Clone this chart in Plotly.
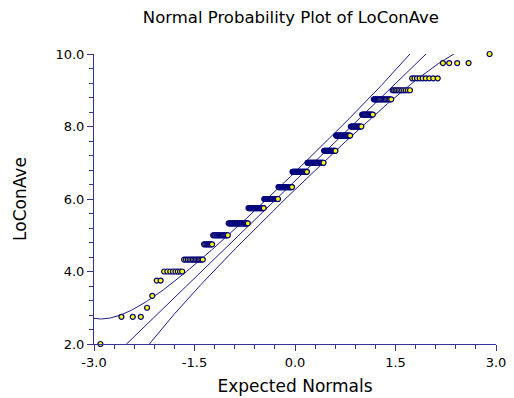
import numpy as np
import plotly.graph_objects as go
from statistics import NormalDist

# ---- data ----
LEVELS = [2.0, 2.75, 3.0, 3.33, 3.75, 4.0, 4.33, 4.75, 5.0, 5.33, 5.75, 6.0,
          6.33, 6.75, 7.0, 7.33, 7.75, 8.0, 8.33, 8.75, 9.0, 9.33, 9.75, 10.0]
COUNTS = [1, 3, 1, 1, 2, 8, 13, 8, 17, 28, 27, 27,
          28, 30, 32, 21, 23, 15, 13, 16, 11, 9, 4, 1]
LINE_MEAN = 6.50   # reference-line intercept
LINE_SD = 1.79     # reference-line slope
CONF_Z = 1.96
X_TICKS = [-3.0, -1.5, 0.0, 1.5, 3.0]
Y_TICKS = [2.0, 4.0, 6.0, 8.0, 10.0]

nd = NormalDist()
y_sorted = np.repeat(LEVELS, COUNTS)
n = len(y_sorted)
expected = np.array([nd.inv_cdf((i - 0.375) / (n + 0.25)) for i in range(1, n + 1)])

# reference line and pointwise confidence bands
zg = np.linspace(-3.0, 3.0, 601)
p = np.array([nd.cdf(z) for z in zg])
dens = np.array([nd.pdf(z) for z in zg])
delta = CONF_Z * np.sqrt(p * (1 - p) / n) / dens
y_mid = LINE_MEAN + LINE_SD * zg
y_up = LINE_MEAN + LINE_SD * (zg + delta)
y_lo = LINE_MEAN + LINE_SD * (zg - delta)

LINE_COLOR = "#1c1c8c"
AXIS_COLOR = "#333399"
FONT = "DejaVu Sans, Arial, sans-serif"

fig = go.Figure()
for yy in (y_up, y_mid, y_lo):
    fig.add_trace(go.Scatter(x=zg, y=yy, mode="lines",
                             line=dict(color=LINE_COLOR, width=1),
                             hoverinfo="skip", showlegend=False))
fig.add_trace(go.Scatter(x=expected, y=y_sorted, mode="markers",
                         marker=dict(size=5, color="#ffff00",
                                     line=dict(color="#000080", width=1.2)),
                         cliponaxis=False, showlegend=False))

fig.update_layout(
    width=514, height=398,
    margin=dict(l=94, r=18, t=54, b=54, autoexpand=False),
    paper_bgcolor="white", plot_bgcolor="white",
    font=dict(family=FONT, size=13, color="black"),
    title=dict(text="Normal Probability Plot of LoConAve",
               x=0.566, xanchor="center", y=0.957, yanchor="middle",
               font=dict(family=FONT, size=16.5, color="black")),
    showlegend=False,
)
fig.update_xaxes(
    automargin=False,
    range=[-3.0, 3.0], tickvals=X_TICKS, ticktext=[f"{v:.1f}" for v in X_TICKS],
    showgrid=False, zeroline=False, showline=True, linecolor=AXIS_COLOR, linewidth=1,
    ticks="outside", ticklen=6, tickcolor=AXIS_COLOR, tickwidth=1,
    minor=dict(dtick=0.3, tick0=-3.0, ticks="outside", ticklen=4,
               tickcolor=AXIS_COLOR, showgrid=False),
    tickfont=dict(size=13),
    title=dict(text="Expected Normals", font=dict(size=17), standoff=11),
)
fig.update_yaxes(
    automargin=False,
    range=[2.0, 10.0], tickvals=Y_TICKS, ticktext=[f"{v:.1f}" for v in Y_TICKS],
    showgrid=False, zeroline=False, showline=True, linecolor=AXIS_COLOR, linewidth=1,
    ticks="outside", ticklen=6, tickcolor=AXIS_COLOR, tickwidth=1,
    minor=dict(dtick=0.4, tick0=2.0, ticks="outside", ticklen=4,
               tickcolor=AXIS_COLOR, showgrid=False),
    tickfont=dict(size=13),
    title=dict(text="LoConAve", font=dict(size=17), standoff=24),
)
fig.write_html("out.html")
